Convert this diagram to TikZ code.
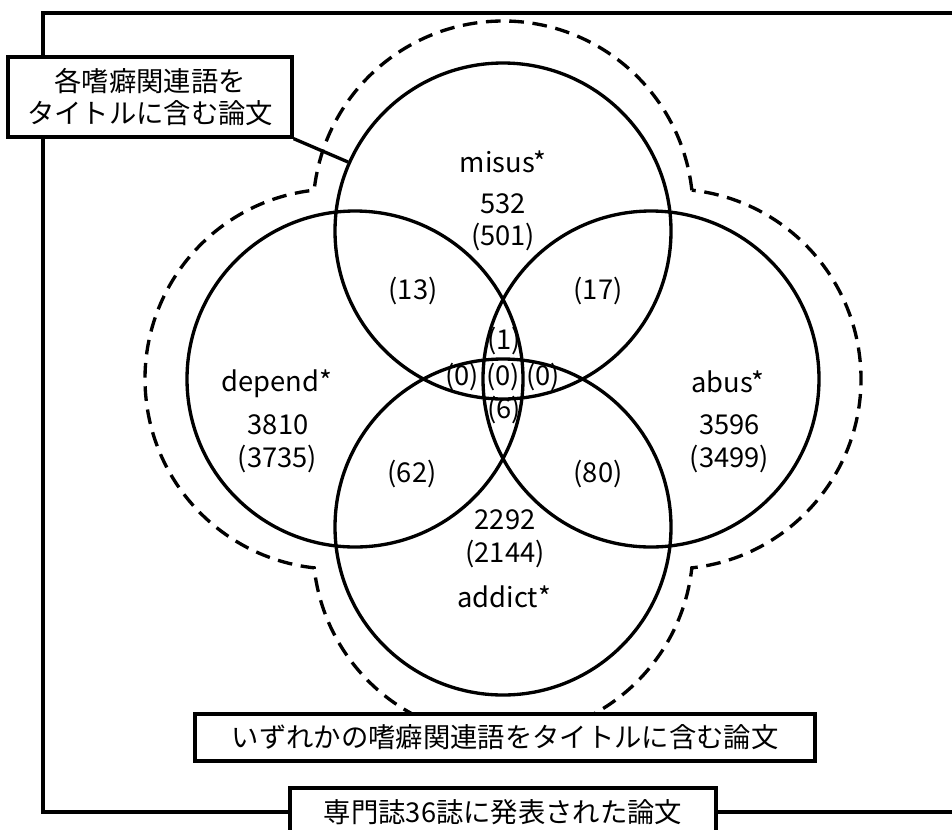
\documentclass[tikz,border=0pt]{standalone}
\usepackage{fontspec}
\setmainfont{Noto Sans CJK JP}
\begin{document}
\begin{tikzpicture}[x=0.75pt,y=-0.75pt,
  line width=2.5pt,
  venn/.style={circle, draw, minimum size=252pt, inner sep=0pt},
  lbl/.style={font=\fontsize{20.5pt}{24pt}\selectfont, inner sep=0pt},
  box/.style={draw, fill=white, font=\fontsize{20.5pt}{24pt}\selectfont, align=center, inner sep=0pt},
  dashline/.style={dash pattern=on 11pt off 6.5pt}]
\path[fill=white] (0,0) rectangle (952,829);
\useasboundingbox (0,0) rectangle (952,829);
% outer frame (open on the right)
\coordinate (rtr) at (951.5,13);
\coordinate (rtl) at (43,13);
\coordinate (rbl) at (43,812);
\coordinate (rbr) at (951.5,812);
\draw[line cap=butt] (rtr) -- (rtl) -- (rbl) -- (rbr);
% dashed union outline
\coordinate (T) at (503,211);
\draw[dashline] ([shift={(6.3:142.5pt)}]T)
  arc[start angle=6.3,end angle=173.7,radius=142.5pt]
  arc[start angle=96.3,end angle=263.7,radius=142.5pt]
  arc[start angle=186.3,end angle=353.7,radius=142.5pt]
  arc[start angle=-83.7,end angle=83.7,radius=142.5pt] -- cycle;
% circles
\node[venn] (misus) at (503,231) {};
\node[venn] (depend) at (355,379) {};
\node[venn] (abus) at (651,379) {};
\node[venn] (addict) at (503,527) {};
% texts
\node[lbl] (t1) at (503,162) {misus*};
\node[lbl] (t2) at (503,204) {532};
\node[lbl] (t3) at (503,237) {(501)};
\node[lbl] (t4) at (413,291) {(13)};
\node[lbl] (t5) at (598,291) {(17)};
\node[lbl] (t6) at (504,341) {(1)};
\node[lbl] (t7) at (462,377) {(0)};
\node[lbl] (t8) at (503,377) {(0)};
\node[lbl] (t9) at (543,377) {(0)};
\node[lbl] (t10) at (504,410) {(6)};
\node[lbl] (t11) at (277,384) {depend*};
\node[lbl] (t12) at (278,424.5) {3810};
\node[lbl] (t13) at (277.5,459) {(3735)};
\node[lbl] (t14) at (412,474) {(62)};
\node[lbl] (t15) at (598,474) {(80)};
\node[lbl] (t16) at (728,382) {abus*};
\node[lbl] (t17) at (729.5,424.5) {3596};
\node[lbl] (t18) at (729.5,459) {(3499)};
\node[lbl] (t19) at (505,520) {2292};
\node[lbl] (t20) at (505,554) {(2144)};
\node[lbl] (t21) at (504,597) {addict*};
% label boxes
\node[box, minimum width=213pt, minimum height=60pt] (each) at (150,97) {各嗜癖関連語を\\タイトルに含む論文};
\draw (each.south east) -- (misus.156.3);
\node[box, minimum width=465pt, minimum height=35.25pt] (any) at (505,737.5) {いずれかの嗜癖関連語をタイトルに含む論文};
\begin{scope}
\clip (0,0) rectangle (952,829);
\node[box, minimum width=319.5pt, minimum height=36pt] (all) at (503,812) {専門誌36誌に発表された論文};
\end{scope}
\end{tikzpicture}
\end{document}
